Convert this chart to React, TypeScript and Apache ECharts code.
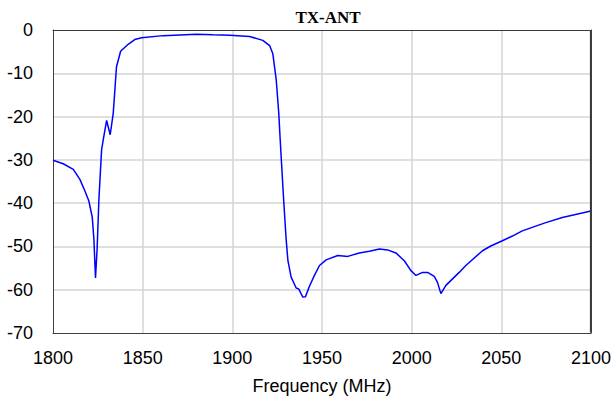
import React, { useEffect, useRef } from "react";
import * as echarts from "echarts";

const chartTitle = "TX-ANT";
const xAxisName = "Frequency (MHz)";

const frequencyMHz = [
  1800, 1805.7, 1811.3, 1815, 1817.8, 1820, 1821.9, 1822.8, 1823.7, 1824.6,
  1825.6, 1827.1, 1828.0, 1829.9, 1831.9, 1833.6, 1835.4, 1837.7, 1841.9, 1845.6,
  1849.4, 1861.4, 1880, 1889.2, 1898.5, 1909.6, 1917, 1920.8, 1922.6, 1924.5,
  1925.9, 1926.7, 1928.6, 1930.0, 1931, 1932.8, 1935.6, 1937, 1939.3, 1940.8,
  1943, 1945.8, 1948.6, 1952.3, 1958.8, 1964.4, 1970.8, 1976.4, 1982, 1986.6,
  1991.2, 1995.9, 1999.6, 2002.4, 2006.1, 2008.9, 2012.6, 2014.4, 2016.3, 2019.1,
  2022.8, 2026.5, 2030.2, 2039.5, 2044.1, 2050.6, 2056.2, 2061.7, 2069.2, 2074.8,
  2084, 2091.4, 2100,
];

const magnitudeDb = [
  -30.1, -30.9, -32.2, -34.5, -37.2, -39.5, -43.3, -48.3, -57.3, -50.6,
  -39.1, -27.7, -25.4, -20.9, -24.2, -19.2, -8.5, -4.9, -3.3, -2.2,
  -1.8, -1.3, -0.96, -1.1, -1.2, -1.5, -2.4, -3.6, -5.5, -11.6,
  -19.2, -25.4, -39.1, -48.3, -53.3, -57.1, -59.6, -59.8, -61.7, -61.6,
  -59.2, -56.7, -54.4, -53.1, -52.1, -52.3, -51.5, -51.1, -50.6, -50.8,
  -51.5, -53.3, -55.6, -56.7, -56.0, -56.0, -56.9, -58.3, -60.9, -59.0,
  -57.5, -56.0, -54.4, -51.0, -49.9, -48.7, -47.6, -46.4, -45.3, -44.5,
  -43.3, -42.6, -41.8,
];

const xMin = 1800;
const xMax = 2100;
const xStep = 50;
const yMin = -70;
const yMax = 0;
const yStep = 10;

export default function App() {
  const ref = useRef<HTMLDivElement>(null);

  useEffect(() => {
    if (!ref.current) return;
    const chart = echarts.init(ref.current, null, { renderer: "svg" });
    const data = frequencyMHz.map((f, i) => [f, magnitudeDb[i]]);
    const sans = "Liberation Sans, Arial, sans-serif";
    const frameLine = { show: true, onZero: false, lineStyle: { color: "#404040", width: 1 } };
    const gridLine = {
      show: true,
      showMinLine: false,
      showMaxLine: false,
      lineStyle: { color: "#d4d4d4", width: 1.5 },
    };
    const labelStyle = { fontFamily: sans, fontSize: 18, color: "#000000" };
    chart.setOption({
      animation: false,
      backgroundColor: "#ffffff",
      title: {
        text: chartTitle,
        left: 323,
        textAlign: "center",
        top: 4,
        textStyle: {
          fontFamily: "Liberation Serif, Times New Roman, serif",
          fontWeight: "bold",
          fontSize: 17,
          color: "#000000",
        },
      },
      grid: {
        left: 53,
        right: 22,
        top: 30,
        bottom: 65,
      },
      xAxis: [
        {
          type: "value",
          min: xMin,
          max: xMax,
          interval: xStep,
          name: xAxisName,
          nameLocation: "middle",
          nameGap: 44,
          nameTextStyle: labelStyle,
          axisLine: frameLine,
          axisTick: { show: false },
          axisLabel: { ...labelStyle, margin: 16, formatter: (v: number) => String(v) },
          splitLine: gridLine,
        },
        {
          type: "value",
          position: "top",
          min: xMin,
          max: xMax,
          interval: xStep,
          axisLine: frameLine,
          axisTick: { show: false },
          axisLabel: { show: false },
          splitLine: { show: false },
        },
      ],
      yAxis: [
        {
          type: "value",
          min: yMin,
          max: yMax,
          interval: yStep,
          axisLine: frameLine,
          axisTick: { show: false },
          axisLabel: { ...labelStyle, margin: 20 },
          splitLine: gridLine,
        },
        {
          type: "value",
          position: "right",
          min: yMin,
          max: yMax,
          interval: yStep,
          axisLine: frameLine,
          axisTick: { show: false },
          axisLabel: { show: false },
          splitLine: { show: false },
        },
      ],
      series: [
        {
          type: "line",
          data,
          xAxisIndex: 0,
          yAxisIndex: 0,
          showSymbol: false,
          lineStyle: { color: "#0000ff", width: 1.5 },
          itemStyle: { color: "#0000ff" },
          z: 5,
        },
        {
          type: "line",
          data: [],
          xAxisIndex: 1,
          yAxisIndex: 1,
          showSymbol: false,
        },
      ],
    });
    const tl = chart.convertToPixel({ gridIndex: 0 }, [xMin, yMax]) as number[];
    const br = chart.convertToPixel({ gridIndex: 0 }, [xMax, yMin]) as number[];
    if (tl && br) {
      const x0 = Math.round(tl[0]) + 0.5;
      const y0 = Math.round(tl[1]) + 0.5;
      const x1 = Math.round(br[0]) - 0.5;
      const y1 = Math.round(br[1]) - 0.5;
      const frameStyle = { stroke: "#3a3a3a", lineWidth: 1.2 };
      chart.setOption({
        graphic: [
          {
            type: "line",
            silent: true,
            z: 100,
            shape: { x1: x0, y1: y0, x2: x1, y2: y0 },
            style: frameStyle,
          },
          {
            type: "line",
            silent: true,
            z: 100,
            shape: { x1: x1, y1: y0, x2: x1, y2: y1 },
            style: frameStyle,
          },
        ],
      });
    }
    return () => chart.dispose();
  }, []);

  return (
    <div
      ref={ref}
      style={{ position: "fixed", left: 0, top: 0, width: 614, height: 400 }}
    />
  );
}
